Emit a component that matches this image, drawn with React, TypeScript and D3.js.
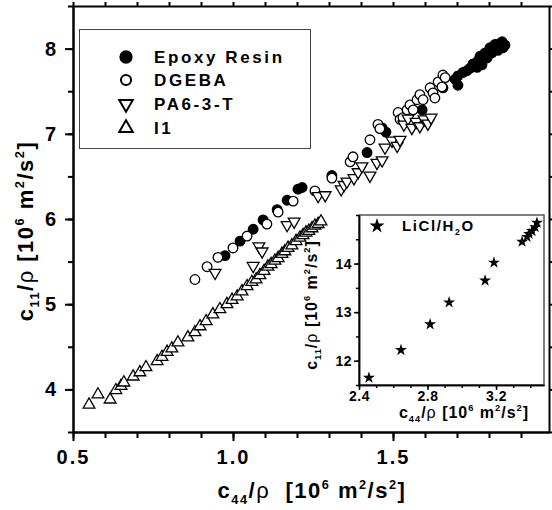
import React, { useEffect, useRef } from 'react';
import * as d3 from 'd3';

type Pt = [number, number];

// c44/rho vs c11/rho, both in 10^6 m^2/s^2
const epoxyResin: Pt[] = [
  [0.975, 5.57], [1.022, 5.74], [1.063, 5.88], [1.094, 5.99], [1.138, 6.11], [1.169, 6.22],
  [1.203, 6.35], [1.216, 6.37], [1.309, 6.51], [1.419, 6.78], [1.466, 7.07], [1.478, 7.02],
  [1.591, 7.28], [1.656, 7.54], [1.694, 7.64], [1.703, 7.57], [1.703, 7.68], [1.719, 7.72],
  [1.731, 7.74], [1.741, 7.77], [1.75, 7.82], [1.763, 7.78], [1.766, 7.86], [1.778, 7.81],
  [1.772, 7.91], [1.788, 7.95], [1.794, 7.89], [1.803, 8.01], [1.809, 7.95], [1.819, 8.05],
  [1.828, 7.98], [1.834, 8.06], [1.844, 8.01], [1.85, 8.04], [1.841, 8.08], [1.825, 8.01],
  [1.797, 7.93],
];

const dgeba: Pt[] = [
  [0.881, 5.29], [0.919, 5.44], [0.953, 5.55], [1.0, 5.66], [1.044, 5.8], [1.106, 5.94],
  [1.141, 6.08], [1.188, 6.21], [1.256, 6.33], [1.309, 6.48], [1.366, 6.67], [1.375, 6.73],
  [1.428, 6.93], [1.453, 7.11], [1.459, 7.06], [1.516, 7.25], [1.522, 7.17], [1.531, 7.19],
  [1.544, 7.28], [1.553, 7.34], [1.563, 7.28], [1.575, 7.4], [1.584, 7.46], [1.594, 7.4],
  [1.616, 7.54], [1.625, 7.48], [1.631, 7.42], [1.641, 7.61], [1.653, 7.55], [1.656, 7.69],
  [1.663, 7.66],
];

const pa63t: Pt[] = [
  [0.944, 5.37], [1.063, 5.45], [1.081, 5.68], [1.091, 5.62], [1.169, 5.93], [1.191, 5.97],
  [1.266, 6.27], [1.288, 6.28], [1.338, 6.35], [1.347, 6.4], [1.356, 6.44], [1.378, 6.48],
  [1.391, 6.55], [1.403, 6.62], [1.428, 6.51], [1.45, 6.66], [1.466, 6.69], [1.475, 6.84],
  [1.497, 6.92], [1.513, 6.86], [1.522, 6.93], [1.534, 7.11], [1.547, 7.18], [1.559, 7.07],
  [1.572, 7.14], [1.584, 7.09], [1.597, 7.17], [1.609, 7.12], [1.619, 7.19],
];

const i1: Pt[] = [
  [0.55, 3.82], [0.578, 3.94], [0.616, 3.88], [0.634, 3.99], [0.65, 4.04], [0.659, 4.08],
  [0.688, 4.15], [0.709, 4.2], [0.728, 4.26], [0.763, 4.33], [0.778, 4.38], [0.794, 4.44],
  [0.809, 4.48], [0.828, 4.55], [0.859, 4.61], [0.881, 4.67], [0.897, 4.74], [0.916, 4.8],
  [0.937, 4.88], [0.959, 4.94], [0.981, 5.0], [0.997, 5.05], [1.013, 5.09], [1.028, 5.15],
  [1.044, 5.21], [1.059, 5.26], [1.072, 5.29], [1.084, 5.34], [1.097, 5.39], [1.109, 5.44],
  [1.119, 5.47], [1.131, 5.51], [1.141, 5.54], [1.153, 5.59], [1.162, 5.62], [1.172, 5.66],
  [1.184, 5.69], [1.197, 5.74], [1.209, 5.78], [1.219, 5.81], [1.228, 5.84], [1.237, 5.86],
  [1.247, 5.89], [1.256, 5.92], [1.266, 5.94], [1.275, 5.97],
];

const liclH2O: Pt[] = [
  [2.458, 11.65], [2.645, 12.22], [2.815, 12.75], [2.926, 13.2], [3.136, 13.65], [3.188, 14.02],
  [3.352, 14.45], [3.381, 14.55], [3.393, 14.61], [3.41, 14.67], [3.428, 14.75], [3.439, 14.84],
];

const mainXMajor = [0.5, 1.0, 1.5];
const mainXMinor = d3.range(5, 20).map((d) => d / 10);
const mainYMajor = [4, 5, 6, 7, 8];
const mainYMinor = d3.range(7, 18).map((d) => d / 2);
const insetXMajor = [2.4, 2.8, 3.2];
const insetXMinor = d3.range(24, 35).map((d) => d / 10);
const insetYMajor = [12, 13, 14];
const insetYMinor = d3.range(23, 31).map((d) => d / 2);

const legendNames = ['Epoxy Resin', 'DGEBA', 'PA6-3-T', 'I1'];

const FONT = '"Liberation Sans", Arial, Helvetica, sans-serif';

type Part = { t: string; sub?: boolean; sup?: boolean; sym?: boolean };

const titleParts = (idx: string, gap: string): Part[] => [
  { t: 'c' },
  { t: idx, sub: true },
  { t: '/' },
  { t: 'ρ', sym: true },
  { t: gap + '[10' },
  { t: '6', sup: true },
  { t: '\u00a0m' },
  { t: '2', sup: true },
  { t: '/s' },
  { t: '2', sup: true },
  { t: ']' },
];

function richText(sel: any, parts: Part[], size: number) {
  let shift = 0;
  parts.forEach((p) => {
    const target = p.sub ? size * 0.26 : p.sup ? -size * 0.42 : 0;
    const ts = sel.append('tspan').attr('dy', target - shift).text(p.t);
    shift = target;
    if (p.sub || p.sup) ts.attr('font-size', size * 0.58);
    if (p.sym) ts.attr('font-weight', 'normal');
  });
}

const App = () => {
  const ref = useRef<SVGSVGElement>(null);

  useEffect(() => {
    const svg = d3.select(ref.current);
    svg.selectAll('*').remove();

    // main plot scales
    const x = d3.scaleLinear().domain([0.5, 1.9875]).range([73, 549]);
    const y = d3.scaleLinear().domain([3.5, 8.5]).range([432, 6]);

    const g = svg.append('g').attr('font-family', FONT);

    const styleAxis = (sel: any, w: number) => {
      sel.select('.domain').attr('stroke-width', w);
      sel.selectAll('.tick line').attr('stroke-width', w);
    };

    // bottom
    g.append('g').attr('transform', 'translate(0,432)')
      .call(d3.axisBottom(x).tickValues(mainXMinor).tickSize(6).tickSizeOuter(0).tickFormat(() => ''))
      .call(styleAxis, 2);
    g.append('g').attr('transform', 'translate(0,432)')
      .call(d3.axisBottom(x).tickValues(mainXMajor).tickSize(9).tickSizeOuter(0).tickPadding(9)
        .tickFormat(d3.format('.1f')))
      .call(styleAxis, 2)
      .call((s: any) => s.selectAll('text').attr('font-size', 20).attr('font-weight', 'bold')
        .attr('letter-spacing', 2).attr('font-family', FONT));
    // top
    g.append('g').attr('transform', 'translate(0,6)')
      .call(d3.axisTop(x).tickValues(mainXMinor).tickSize(4).tickSizeOuter(0).tickFormat(() => ''))
      .call(styleAxis, 2);
    // left
    g.append('g').attr('transform', 'translate(73,0)')
      .call(d3.axisLeft(y).tickValues(mainYMinor).tickSize(5).tickSizeOuter(0).tickFormat(() => ''))
      .call(styleAxis, 2);
    g.append('g').attr('transform', 'translate(73,0)')
      .call(d3.axisLeft(y).tickValues(mainYMajor).tickSize(8).tickSizeOuter(0).tickPadding(9)
        .tickFormat(d3.format('d')))
      .call(styleAxis, 2)
      .call((s: any) => s.selectAll('text').attr('font-size', 20).attr('font-weight', 'bold')
        .attr('font-family', FONT));
    // right
    g.append('g').attr('transform', 'translate(549,0)')
      .call(d3.axisRight(y).tickValues(mainYMinor).tickSize(4).tickSizeOuter(0).tickFormat(() => ''))
      .call(styleAxis, 2);
    g.selectAll('.domain').attr('stroke', '#000');

    // axis titles
    const xt = g.append('text').attr('x', 312).attr('y', 498).attr('text-anchor', 'middle')
      .attr('font-size', 22).attr('font-weight', 'bold').attr('letter-spacing', 1.5);
    richText(xt, titleParts('44', '\u00a0\u00a0'), 22);

    const yt = g.append('text').attr('transform', 'translate(33,231) rotate(-90)')
      .attr('text-anchor', 'middle').attr('font-size', 22).attr('font-weight', 'bold')
      .attr('letter-spacing', 1.5);
    richText(yt, titleParts('11', '\u00a0'), 22);

    // markers
    const circle = d3.symbol().type(d3.symbolCircle);
    const tri = d3.symbol().type(d3.symbolTriangle);

    const drawSeries = (data: Pt[], path: string, fill: string, rot: number) => {
      g.append('g').selectAll('path').data(data).join('path')
        .attr('d', path)
        .attr('transform', (d) => `translate(${x(d[0])},${y(d[1])}) rotate(${rot})`)
        .attr('fill', fill).attr('stroke', '#000').attr('stroke-width', 1.3);
    };
    drawSeries(epoxyResin, circle.size(72)()!, '#000', 0);
    drawSeries(dgeba, circle.size(72)()!, '#fff', 0);
    drawSeries(pa63t, tri.size(60)()!, '#fff', 180);
    drawSeries(i1, tri.size(60)()!, '#fff', 0);

    // legend
    const lg = g.append('g');
    lg.append('rect').attr('x', 79.5).attr('y', 29.5).attr('width', 231).attr('height', 119)
      .attr('fill', '#fff').attr('stroke', '#444').attr('stroke-width', 1);
    const legSym = [
      { p: circle.size(100)()!, f: '#000', r: 0 },
      { p: circle.size(80)()!, f: '#fff', r: 0 },
      { p: tri.size(80)()!, f: '#fff', r: 180 },
      { p: tri.size(80)()!, f: '#fff', r: 0 },
    ];
    const legY = [57, 80, 104, 128];
    legendNames.forEach((name, i) => {
      lg.append('path').attr('d', legSym[i].p)
        .attr('transform', `translate(126,${legY[i]}) rotate(${legSym[i].r})`)
        .attr('fill', legSym[i].f).attr('stroke', '#000').attr('stroke-width', 2);
      lg.append('text').attr('x', 154).attr('y', legY[i] + 6).text(name)
        .attr('font-size', 17).attr('font-weight', 'bold').attr('letter-spacing', 2.6);
    });

    // inset
    const ix = d3.scaleLinear().domain([2.4, 3.48]).range([359, 544]);
    const iy = d3.scaleLinear().domain([11.5, 15]).range([385, 215]);
    const ig = g.append('g');
    ig.append('rect').attr('x', 359).attr('y', 215).attr('width', 185).attr('height', 170)
      .attr('fill', '#fff').attr('stroke', '#555').attr('stroke-width', 1.5);

    ig.append('g').attr('transform', 'translate(0,385)')
      .call(d3.axisBottom(ix).tickValues(insetXMinor).tickSize(3).tickSizeOuter(0).tickFormat(() => ''))
      .call(styleAxis, 1.5);
    ig.append('g').attr('transform', 'translate(0,385)')
      .call(d3.axisBottom(ix).tickValues(insetXMajor).tickSize(5).tickSizeOuter(0).tickPadding(1)
        .tickFormat(d3.format('.1f')))
      .call(styleAxis, 1.5)
      .call((s: any) => s.selectAll('text').attr('font-size', 14).attr('font-weight', 'bold')
        .attr('letter-spacing', 0.5).attr('font-family', FONT));
    ig.append('g').attr('transform', 'translate(359,0)')
      .call(d3.axisLeft(iy).tickValues(insetYMinor).tickSize(3).tickSizeOuter(0).tickFormat(() => ''))
      .call(styleAxis, 1.5);
    ig.append('g').attr('transform', 'translate(359,0)')
      .call(d3.axisLeft(iy).tickValues(insetYMajor).tickSize(5).tickSizeOuter(0).tickPadding(2)
        .tickFormat(d3.format('d')))
      .call(styleAxis, 1.5)
      .call((s: any) => s.selectAll('text').attr('font-size', 14).attr('font-weight', 'bold')
        .attr('letter-spacing', 0.5).attr('font-family', FONT));

    const ixt = ig.append('text').attr('x', 464).attr('y', 418).attr('text-anchor', 'middle')
      .attr('font-size', 16).attr('font-weight', 'bold').attr('letter-spacing', 1);
    richText(ixt, titleParts('44', '\u00a0'), 16);
    const iyt = ig.append('text').attr('transform', 'translate(317,305) rotate(-90)')
      .attr('text-anchor', 'middle').attr('font-size', 16).attr('font-weight', 'bold')
      .attr('letter-spacing', 1);
    richText(iyt, titleParts('11', '\u00a0'), 16);

    const star = d3.symbol().type(d3.symbolStar);
    ig.append('g').selectAll('path').data(liclH2O).join('path')
      .attr('d', star.size(45)()!)
      .attr('transform', (d) => `translate(${ix(d[0])},${iy(d[1])})`)
      .attr('fill', '#000');

    ig.append('path').attr('d', star.size(70)()!).attr('transform', 'translate(377,226)').attr('fill', '#000');
    const lt = ig.append('text').attr('x', 402).attr('y', 231).attr('font-size', 15)
      .attr('font-weight', 'bold').attr('letter-spacing', 1.6);
    richText(lt, [{ t: 'LiCl/H' }, { t: '2', sub: true }, { t: 'O' }], 15);
  }, []);

  return (
    <div style={{ position: 'absolute', left: 0, top: 0, background: '#fff' }}>
      <svg ref={ref} width={552} height={510} style={{ display: 'block' }} />
    </div>
  );
};

export default App;
